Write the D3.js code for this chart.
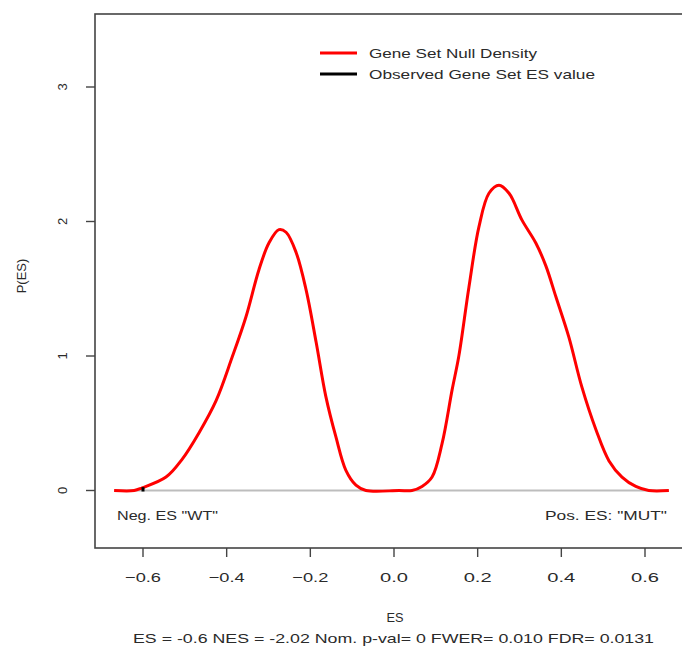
<!DOCTYPE html>
<html><head><meta charset="utf-8">
<script src="https://cdn.jsdelivr.net/npm/d3@7"></script>
<style>
html,body{margin:0;padding:0;background:#fff;}
svg{display:block;}
text{font-family:"Liberation Sans",Arial,Helvetica,sans-serif;fill:#2a2a2a;}
</style></head>
<body><svg id="c" width="682" height="651"></svg>
<script>
// Null density of ES
const esX = [-0.669,-0.621,-0.602,-0.545,-0.507,-0.466,-0.425,-0.387,-0.354,-0.323,-0.299,-0.275,-0.258,-0.234,-0.210,-0.186,-0.163,-0.139,-0.115,-0.091,-0.067,0.012,
             0.043,0.067,0.091,0.115,0.139,0.155,0.179,0.203,0.227,0.251,0.275,0.306,0.339,0.363,0.387,0.418,0.449,0.483,0.514,0.545,0.578,0.609,0.657];
const density = [0,0,0.02,0.10,0.23,0.43,0.67,0.99,1.29,1.64,1.84,1.94,1.92,1.77,1.49,1.10,0.70,0.40,0.15,0.04,0,0,
             0,0.03,0.10,0.35,0.75,1.00,1.51,1.96,2.21,2.27,2.21,2.01,1.84,1.67,1.44,1.14,0.77,0.45,0.22,0.10,0.03,0,0];
const obsES = [-0.6];
const xTicks = [-0.6,-0.4,-0.2,0.0,0.2,0.4,0.6];
const yTicks = [0,1,2,3];
const legendLabels = ["Gene Set Null Density","Observed Gene Set ES value"];
const legendColors = ["#ff0000","#000000"];
const xLabel = "ES";
const yLabel = "P(ES)";
const negLabel = 'Neg. ES "WT"';
const posLabel = 'Pos. ES: "MUT"';
const statsLabel = "ES = -0.6  NES = -2.02 Nom. p-val= 0 FWER= 0.010 FDR= 0.0131";

const svg = d3.select("#c");
const x = d3.scaleLinear().domain([-0.6,0.6]).range([143,645]);
const y = d3.scaleLinear().domain([0,3]).range([490.5,87]);
const box = {l:95, t:14, b:548, r:700};

function stretch(sel, w){ sel.attr("textLength", w).attr("lengthAdjust","spacingAndGlyphs"); }

// baseline
svg.append("line")
  .attr("x1", x(d3.min(esX))).attr("x2", x(d3.max(esX)))
  .attr("y1", y(0)).attr("y2", y(0))
  .attr("stroke","#bdbdbd").attr("stroke-width",2);

// density curve
const pts = esX.map((v,i)=>[v, density[i]]);
svg.append("path").datum(pts)
  .attr("fill","none").attr("stroke","#ff0000").attr("stroke-width",3)
  .attr("stroke-linejoin","round")
  .attr("d", d3.line().x(d=>x(d[0])).y(d=>y(Math.max(0,d[1]))).curve(d3.curveCatmullRom.alpha(0.5)));

// observed ES
svg.selectAll(".obs").data(obsES).enter().append("line")
  .attr("x1",d=>x(d)).attr("x2",d=>x(d))
  .attr("y1",y(0)+1).attr("y2",y(0.025))
  .attr("stroke","#000").attr("stroke-width",3);

// box
svg.append("rect").attr("x",box.l).attr("y",box.t)
  .attr("width",box.r-box.l).attr("height",box.b-box.t)
  .attr("fill","none").attr("stroke","#444").attr("stroke-width",1.6);

// x axis ticks
const xa = svg.append("g");
xa.selectAll("line").data(xTicks).enter().append("line")
  .attr("x1",d=>x(d)).attr("x2",d=>x(d)).attr("y1",box.b).attr("y2",box.b+9)
  .attr("stroke","#444").attr("stroke-width",1.4);
xa.selectAll("text").data(xTicks).enter().append("text")
  .attr("x",d=>x(d)).attr("y",582).attr("text-anchor","middle")
  .attr("font-size",13)
  .text(d=>d3.format(".1f")(d))
  .each(function(d){ stretch(d3.select(this), d<0?36:28); });

// y axis ticks
const ya = svg.append("g");
ya.selectAll("line").data(yTicks).enter().append("line")
  .attr("x1",box.l-9).attr("x2",box.l).attr("y1",d=>y(d)).attr("y2",d=>y(d))
  .attr("stroke","#444").attr("stroke-width",1.4);
ya.selectAll("text").data(yTicks).enter().append("text")
  .attr("transform",d=>`translate(67,${y(d)}) rotate(-90)`)
  .attr("text-anchor","middle").attr("font-size",13)
  .text(d=>d);

// axis titles
svg.append("text").attr("x",395).attr("y",622).attr("text-anchor","middle")
  .attr("font-size",13).text(xLabel).call(stretch, 17);
svg.append("text").attr("transform","translate(26,276) rotate(-90)")
  .attr("text-anchor","middle").attr("font-size",13).text(yLabel);
svg.append("text").attr("x",133).attr("y",643).attr("font-size",13)
  .text(statsLabel).call(stretch, 521);

// side annotations
svg.append("text").attr("x",117).attr("y",520).attr("font-size",13)
  .text(negLabel).call(stretch, 101);
svg.append("text").attr("x",667).attr("y",520).attr("text-anchor","end").attr("font-size",13)
  .text(posLabel).call(stretch, 122);

// legend
const lg = svg.append("g");
const lgY = [53, 74];
const lgW = [168, 226];
legendLabels.forEach((lab,i)=>{
  lg.append("line").attr("x1",320).attr("x2",357).attr("y1",lgY[i]).attr("y2",lgY[i])
    .attr("stroke",legendColors[i]).attr("stroke-width",3);
  lg.append("text").attr("x",369).attr("y",lgY[i]+4.5).attr("font-size",13)
    .text(lab).call(stretch, lgW[i]);
});
</script></body></html>
